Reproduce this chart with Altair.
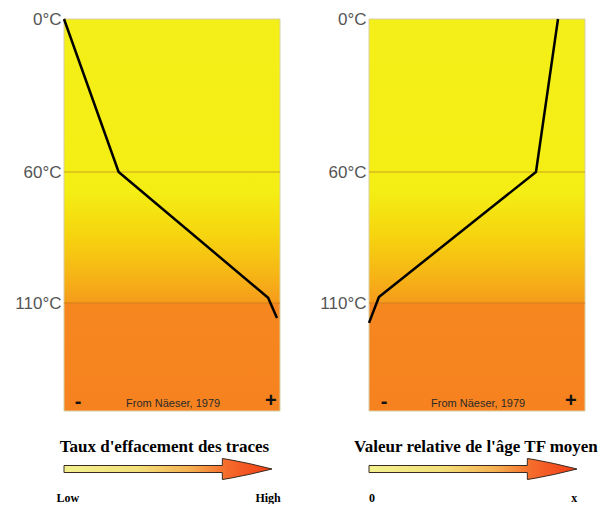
import altair as alt
import pandas as pd

# --- data ---
temp_ticks = [0, 60, 110]
temp_domain = [0, 60, 110, 155]

left_x = [0, 25.3, 94.5, 98.6]
left_t = [0, 60, 108, 116.3]

right_x = [87.5, 77.3, 4.6, 0]
right_t = [0, 60, 107.7, 118.3]

rule_t = [60, 110]
rule_color = ["#C9A21E", "#D27A1A"]

arrow_x = [0, 73.3, 73.31, 77.0, 86.0, 96.3]
arrow_half = [3.5, 3.5, 10.5, 9.2, 5.3, 0]

left_title = "Taux d'effacement des traces"
right_title = "Valeur relative de l'âge TF moyen"
left_ends = ["Low", "High"]
right_ends = ["0", "x"]
left_end_x = [1.8, 94.5]
right_end_x = [1.4, 95.0]
left_title_x = 46.5
right_title_x = 49.5

source_text = "From Näeser, 1979"

W = 216
H = 392

yscale = alt.Scale(domain=temp_domain, range=[0, 153, 284, H], nice=False)
xscale = alt.Scale(domain=[0, 100], nice=False)

yaxis = alt.Axis(
    values=temp_ticks, labelExpr="datum.value + '°C'", title=None,
    domain=False, ticks=False, grid=False, labelPadding=3,
    labelFont="Liberation Sans", labelFontSize=17, labelColor="#555555")

panel_grad = alt.Gradient(
    gradient="linear", x1=0, x2=0, y1=0, y2=1,
    stops=[
        alt.GradientStop(offset=0.0, color="#F5EF19"),
        alt.GradientStop(offset=0.44, color="#F4EE14"),
        alt.GradientStop(offset=0.55, color="#F6D50F"),
        alt.GradientStop(offset=0.65, color="#F6B615"),
        alt.GradientStop(offset=0.723, color="#F59C1B"),
        alt.GradientStop(offset=0.727, color="#F6871F"),
        alt.GradientStop(offset=1.0, color="#F6821F"),
    ],
)

arrow_grad = alt.Gradient(
    gradient="linear", x1=0, x2=1, y1=0, y2=0,
    stops=[
        alt.GradientStop(offset=0.0, color="#F2F08E"),
        alt.GradientStop(offset=0.35, color="#F2E07A"),
        alt.GradientStop(offset=0.6, color="#F5B252"),
        alt.GradientStop(offset=0.78, color="#F56C2C"),
        alt.GradientStop(offset=1.0, color="#F23C16"),
    ],
)


def panel(xs, ts, minus_x, plus_x):
    bg = pd.DataFrame({"x0": [0], "x1": [100], "t0": [0], "t1": [155]})
    rect = alt.Chart(bg).mark_rect(fill=panel_grad, stroke="#D6CFA8", strokeWidth=1).encode(
        x=alt.X("x0:Q", scale=xscale, axis=None),
        x2="x1:Q",
        y=alt.Y("t0:Q", scale=yscale, axis=yaxis),
        y2="t1:Q",
    )
    rules = alt.Chart(pd.DataFrame({"t": rule_t, "c": rule_color})).mark_rule(strokeWidth=1).encode(
        y=alt.Y("t:Q", scale=yscale, axis=yaxis),
        color=alt.Color("c:N", scale=None),
    )
    df = pd.DataFrame({"x": xs, "t": ts, "i": list(range(len(xs)))})
    line = alt.Chart(df).mark_line(color="black", strokeWidth=2.5, strokeJoin="round").encode(
        x=alt.X("x:Q", scale=xscale, axis=None),
        y=alt.Y("t:Q", scale=yscale, axis=yaxis),
        order="i:O",
    )
    src = alt.Chart(pd.DataFrame({"x": [50.5], "t": [152], "s": [source_text]})).mark_text(
        font="Liberation Sans", fontSize=11, color="#2a2a2a", baseline="middle", align="center"
    ).encode(
        x=alt.X("x:Q", scale=xscale, axis=None),
        y=alt.Y("t:Q", scale=yscale, axis=yaxis),
        text="s:N",
    )
    signs = alt.Chart(pd.DataFrame({"x": [minus_x, plus_x], "t": [151.2, 151.0], "s": ["-", "+"]})).mark_text(
        font="Liberation Sans", fontSize=20, fontWeight="bold", color="#111111", baseline="middle", align="center"
    ).encode(
        x=alt.X("x:Q", scale=xscale, axis=None),
        y=alt.Y("t:Q", scale=yscale, axis=yaxis),
        text="s:N",
    )
    return alt.layer(rect, rules, line, src, signs).properties(width=W, height=H)


def arrow(title, title_x, ends, end_x):
    yax = alt.Scale(domain=[0, 68], nice=False)
    adf = pd.DataFrame({
        "x": arrow_x,
        "top": [35 + h for h in arrow_half],
        "bot": [35 - h for h in arrow_half],
    })
    area = alt.Chart(adf).mark_area(fill=arrow_grad, stroke="#3a2a20", strokeWidth=1, interpolate="linear").encode(
        x=alt.X("x:Q", scale=xscale, axis=None),
        y=alt.Y("top:Q", scale=yax, axis=None),
        y2="bot:Q",
    )
    ttl = alt.Chart(pd.DataFrame({"x": [title_x], "y": [57], "s": [title]})).mark_text(
        font="Liberation Serif", fontSize=17, fontWeight="bold", color="black", baseline="middle", align="center"
    ).encode(
        x=alt.X("x:Q", scale=xscale, axis=None),
        y=alt.Y("y:Q", scale=yax, axis=None),
        text="s:N",
    )
    lbl = alt.Chart(pd.DataFrame({"x": end_x, "y": [6, 6], "s": ends})).mark_text(
        font="Liberation Serif", fontSize=12, fontWeight="bold", color="black", baseline="middle", align="center"
    ).encode(
        x=alt.X("x:Q", scale=xscale, axis=None),
        y=alt.Y("y:Q", scale=yax, axis=None),
        text="s:N",
    )
    return alt.layer(area, ttl, lbl).properties(width=W, height=68)


chart = alt.concat(
    panel(left_x, left_t, 6.5, 95.8),
    panel(right_x, right_t, 7.0, 93.5),
    arrow(left_title, left_title_x, left_ends, left_end_x),
    arrow(right_title, right_title_x, right_ends, right_end_x),
    columns=2,
    spacing={"row": 25, "column": 89},
    bounds="flush",
    padding={"left": 6, "top": 2, "right": 0, "bottom": 0},
    background="white",
).configure_view(stroke="transparent", strokeWidth=0)

chart.save("out.html", embed_options={"renderer": "svg", "actions": False})
